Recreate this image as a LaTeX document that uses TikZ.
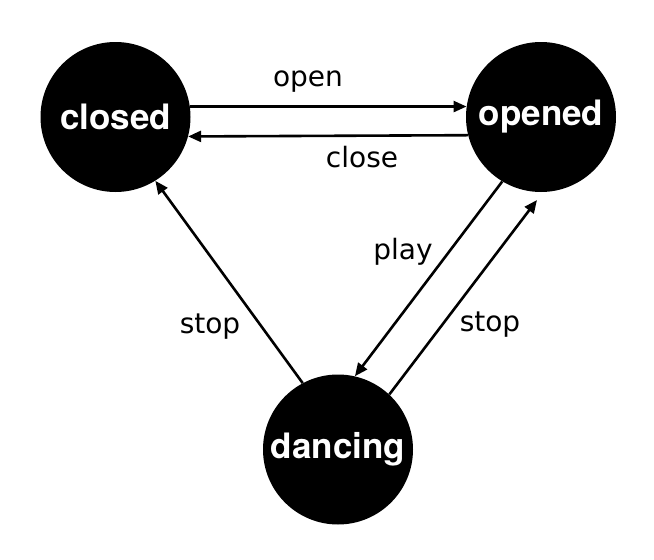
\documentclass[tikz,border=0pt]{standalone}
\usepackage{fontspec}
\setmainfont{TeX Gyre Heros}
\newfontfamily\labfont{DejaVu Sans}
\usetikzlibrary{arrows.meta,calc}
\begin{document}
\begin{tikzpicture}[x=1pt,y=-1pt,
  state/.style={circle,fill=black,draw=none,minimum size=150pt,inner sep=0pt,
    text=white,font=\fontsize{35}{38}\selectfont\bfseries},
  edge/.style={line width=2.6pt,-{Triangle[length=13pt,width=11pt]}},
  lab/.style={font=\labfont\fontsize{28}{30}\selectfont,inner sep=0pt}]
\useasboundingbox (0,0) rectangle (654,560);
\node[state] (closed) at (115.5,117) {\raisebox{-3pt}{closed}};
\node[state] (opened) at (541,117) {\raisebox{-3pt}{opened}};
\node[state] (dancing) at (338,449.5) {\raisebox{-3pt}{dancing}};
\draw[edge] (closed.8) -- (opened.172);
\draw[edge] (opened.194.5) -- (closed.345.5);
\draw[edge] (opened.239.5) -- (dancing.77);
\coordinate (stopend) at ($(opened.center)+(-4,83)$);
\draw[edge] (dancing.47) -- (stopend);
\draw[edge] (dancing.118) -- (closed.302);
\node[lab] (lopen) at (308,82) {open};
\node[lab] (lclose) at (362,157) {close};
\node[lab] (lplay) at (403,252) {play};
\node[lab] (lstopr) at (490,325) {stop};
\node[lab] (lstopl) at (210,327) {stop};
\end{tikzpicture}
\end{document}
